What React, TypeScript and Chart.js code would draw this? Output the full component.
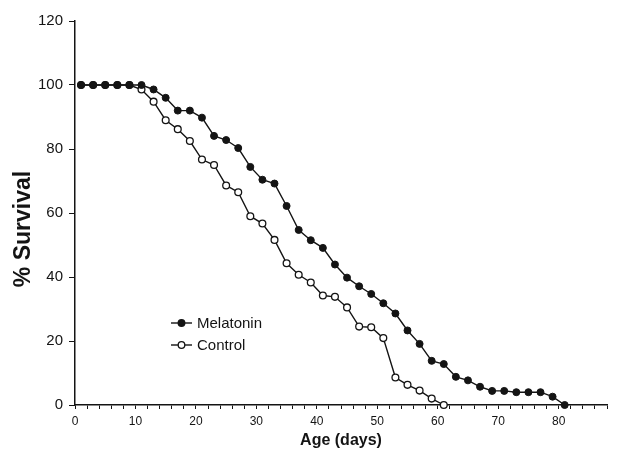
import React, { useEffect, useRef } from "react";
import { Chart, registerables } from "chart.js";

Chart.register(...registerables);

const melatoninDays = [1, 3, 5, 7, 9, 11, 13, 15, 17, 19, 21, 23, 25, 27, 29, 31, 33, 35, 37, 39, 41, 43, 45, 47, 49, 51, 53, 55, 57, 59, 61, 63, 65, 67, 69, 71, 73, 75, 77, 79, 81];
const melatoninSurvival = [100, 100, 100, 100, 100, 100, 98.6, 96, 92, 92, 89.8, 84.1, 82.8, 80.3, 74.4, 70.4, 69.2, 62.2, 54.7, 51.5, 49.1, 43.9, 39.8, 37.1, 34.7, 31.8, 28.6, 23.3, 19.1, 13.8, 12.8, 8.8, 7.7, 5.7, 4.4, 4.4, 4.0, 4.0, 4.0, 2.6, 0];

const controlDays = [1, 3, 5, 7, 9, 11, 13, 15, 17, 19, 21, 23, 25, 27, 29, 31, 33, 35, 37, 39, 41, 43, 45, 47, 49, 51, 53, 55, 57, 59, 61];
const controlSurvival = [100, 100, 100, 100, 100, 98.6, 94.8, 89, 86.2, 82.5, 76.7, 75, 68.6, 66.5, 59, 56.7, 51.6, 44.3, 40.7, 38.3, 34.2, 33.8, 30.5, 24.5, 24.3, 20.9, 8.6, 6.3, 4.5, 2, 0];

const seriesLabels = ["Melatonin", "Control"];
const yAxisTitle = "% Survival";
const xAxisTitle = "Age (days)";
const xLabelEvery = 10;

const FONT = "'Liberation Sans', Arial, sans-serif";
const INK = "#141414";

const decorPlugin = {
  id: "decor",
  afterDraw(chart: any) {
    const ctx = chart.ctx;
    ctx.save();
    // y-axis title
    ctx.translate(24, 229);
    ctx.rotate(-Math.PI / 2);
    ctx.fillStyle = INK;
    ctx.font = `bold 23px ${FONT}`;
    ctx.textAlign = "center";
    ctx.textBaseline = "middle";
    ctx.fillText(yAxisTitle, 0, 0);
    ctx.restore();

    // inset legend
    const rows = [323, 345];
    ctx.save();
    chart.data.datasets.forEach((ds: any, i: number) => {
      const y = rows[i];
      ctx.strokeStyle = INK;
      ctx.lineWidth = 1.4;
      ctx.beginPath();
      ctx.moveTo(171, y);
      ctx.lineTo(192, y);
      ctx.stroke();
      ctx.beginPath();
      ctx.arc(181.5, y, 3.3, 0, Math.PI * 2);
      ctx.fillStyle = ds.pointBackgroundColor;
      ctx.fill();
      ctx.lineWidth = 1.3;
      ctx.stroke();
      ctx.fillStyle = INK;
      ctx.font = `15px ${FONT}`;
      ctx.textBaseline = "middle";
      ctx.textAlign = "left";
      ctx.fillText(ds.label, 197, y + 1);
    });
    ctx.restore();
  },
};

export default function App() {
  const ref = useRef<HTMLCanvasElement | null>(null);

  useEffect(() => {
    if (!ref.current) return;
    const chart = new Chart(ref.current, {
      type: "line",
      data: {
        datasets: [
          {
            label: seriesLabels[0],
            data: melatoninDays.map((d, i) => ({ x: d, y: melatoninSurvival[i] })),
            borderColor: INK,
            borderWidth: 1.4,
            pointBackgroundColor: INK,
            pointBorderColor: INK,
            pointBorderWidth: 1,
            pointRadius: 3.5,
            tension: 0,
            clip: false as any,
          },
          {
            label: seriesLabels[1],
            data: controlDays.map((d, i) => ({ x: d, y: controlSurvival[i] })),
            borderColor: INK,
            borderWidth: 1.4,
            pointBackgroundColor: "#ffffff",
            pointBorderColor: INK,
            pointBorderWidth: 1.3,
            pointRadius: 3.4,
            tension: 0,
            clip: false as any,
          },
        ],
      },
      options: {
        animation: false,
        responsive: false,
        layout: { padding: { left: 0, top: 21, right: 11, bottom: 0 } },
        plugins: {
          legend: { display: false },
          tooltip: { enabled: false },
        },
        scales: {
          x: {
            type: "linear",
            min: 0,
            max: 88,
            afterFit: (s: any) => {
              s.height = 49;
            },
            border: { display: true, color: INK, width: 1.5 },
            grid: { drawOnChartArea: false, drawTicks: true, tickLength: 4, color: INK, lineWidth: 1 },
            ticks: {
              stepSize: 2,
              autoSkip: false,
              maxRotation: 0,
              padding: 5,
              color: INK,
              font: { family: FONT, size: 12 },
              callback: (v: any) => (Number(v) % xLabelEvery === 0 && Number(v) <= 80 ? String(v) : ""),
            },
            title: {
              display: true,
              text: xAxisTitle,
              color: INK,
              font: { family: FONT, size: 16, weight: "bold" },
              padding: { top: 0, bottom: 4 },
            },
          },
          y: {
            min: 0,
            max: 120,
            afterFit: (s: any) => {
              s.width = 75;
            },
            border: { display: true, color: INK, width: 1.5 },
            grid: { drawOnChartArea: false, drawTicks: true, tickLength: 6, color: INK, lineWidth: 1 },
            ticks: {
              stepSize: 20,
              padding: 6,
              color: INK,
              font: { family: FONT, size: 15 },
            },
            title: { display: false },
          },
        },
      },
      plugins: [decorPlugin],
    });
    return () => chart.destroy();
  }, []);

  return (
    <div style={{ position: "absolute", left: 0, top: 0, width: 618, height: 454, background: "#fff" }}>
      <canvas ref={ref} width={618} height={454} style={{ width: 618, height: 454, display: "block" }} />
    </div>
  );
}
